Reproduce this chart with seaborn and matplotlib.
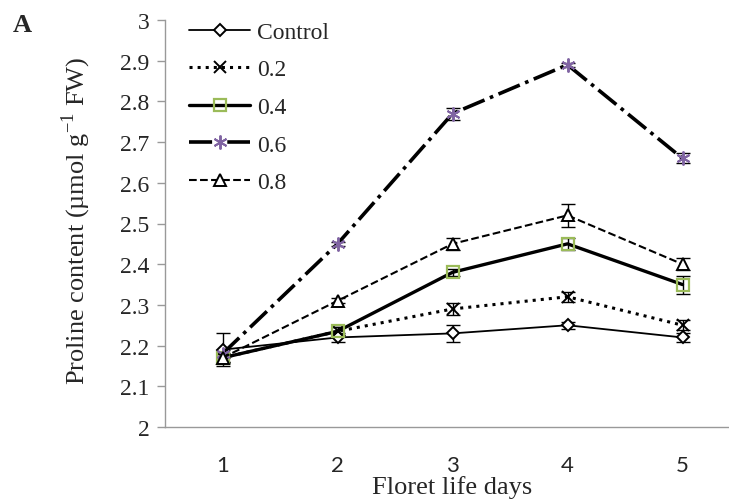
import numpy as np
import pandas as pd
import matplotlib
matplotlib.use("Agg")
import matplotlib.pyplot as plt
import seaborn as sns

days = [1, 2, 3, 4, 5]
series_names = ["Control", "0.2", "0.4", "0.6", "0.8"]
control = [2.19, 2.22, 2.23, 2.25, 2.22]
c02 = [2.17, 2.235, 2.29, 2.32, 2.25]
c04 = [2.17, 2.235, 2.38, 2.45, 2.35]
c06 = [2.18, 2.45, 2.77, 2.89, 2.66]
c08 = [2.17, 2.31, 2.45, 2.52, 2.40]
err_control = [0.04, 0.012, 0.02, 0.008, 0.012]
err_02 = [0.01, 0.01, 0.015, 0.012, 0.012]
err_04 = [0.01, 0.01, 0.008, 0.015, 0.022]
err_06 = [0.01, 0.005, 0.015, 0.005, 0.012]
err_08 = [0.012, 0.006, 0.015, 0.028, 0.015]
yticks = [2.0, 2.1, 2.2, 2.3, 2.4, 2.5, 2.6, 2.7, 2.8, 2.9, 3.0]
ytick_labels = ["2", "2.1", "2.2", "2.3", "2.4", "2.5", "2.6", "2.7", "2.8", "2.9", "3"]

values = [control, c02, c04, c06, c08]
errors = [err_control, err_02, err_04, err_06, err_08]

sns.set_style("white")
plt.rcParams['font.family'] = ['Liberation Serif', 'DejaVu Serif']
plt.rcParams['mathtext.fontset'] = 'custom'
plt.rcParams['mathtext.rm'] = 'Liberation Serif'

fig = plt.figure(figsize=(7.29, 5.02), dpi=100)
ax = fig.add_axes([165/729, 1-428/502, (740-165)/729, (428-21)/502])

green = "#9BBB59"
purple = "#8064A2"
styles = [
    dict(ls="-", lw=1.3, marker="D", ms=6.5, mfc="white", mec="black", mew=1.4, dashes=None),
    dict(ls=":", lw=2.2, marker="x", ms=8, mfc="black", mec="black", mew=1.4, dashes=(1, 1.4)),
    dict(ls="-", lw=2.4, marker="s", ms=8.5, mfc="none", mec=green, mew=1.6, dashes=None),
    dict(ls="-.", lw=2.6, marker=(6, 2, 0), ms=10, mfc=purple, mec=purple, mew=1.4, dashes=(9, 4, 1, 4)),
    dict(ls="--", lw=1.5, marker="^", ms=8, mfc="white", mec="black", mew=1.4, dashes=(11, 5)),
]

for name, vals, errs, st in zip(series_names, values, errors, styles):
    df = pd.DataFrame({"day": days, "val": vals})
    ax.errorbar(days, vals, yerr=errs, fmt="none", ecolor="black", elinewidth=1.0,
                capsize=5, capthick=1.0, zorder=2)
    kw = dict(linestyle=st["ls"], linewidth=st["lw"], color="black",
              marker=st["marker"], markersize=st["ms"], markerfacecolor=st["mfc"],
              markeredgecolor=st["mec"], markeredgewidth=st["mew"])
    if st["dashes"] is not None:
        kw["dashes"] = st["dashes"]
    sns.lineplot(data=df, x="day", y="val", ax=ax, label=name, zorder=3, **kw)

ax.set_xlim(0.5, 5.5)
ax.set_ylim(2.0, 3.0)
ax.set_xticks(days)
ax.set_xticklabels([str(d) for d in days], family=["Lato", "DejaVu Sans"])
ax.set_yticks(yticks)
ax.set_yticklabels(ytick_labels)
ax.set_xticks([1.5, 2.5, 3.5, 4.5], minor=True)
ax.tick_params(axis="x", which="major", length=0, labelsize=16, pad=20)
ax.tick_params(axis="x", which="minor", length=6, color="#999999", width=1, direction="out")
ax.tick_params(axis="y", which="major", length=6, color="#999999", width=1, direction="out",
               labelsize=17, pad=5, left=True)
for s in ["top", "right"]:
    ax.spines[s].set_visible(False)
for s in ["left", "bottom"]:
    ax.spines[s].set_color("#999999")
    ax.spines[s].set_linewidth(1.0)

ax.set_xlabel("Floret life days", fontsize=19, labelpad=0)
ax.set_ylabel("Proline content (µmol g$^{-1}$ FW)", fontsize=19, labelpad=14)
ax.yaxis.set_label_coords(-0.125, 0.51)

leg = ax.legend(loc="upper left", bbox_to_anchor=(0.025, 1.02), frameon=False,
                fontsize=17, handlelength=2.6, handletextpad=0.3, labelspacing=0.68,
                borderaxespad=0)
fig.text(13/729, 1-25/502, "A", fontsize=19, fontweight="bold", va="center", ha="left")

fig.savefig("out.png", dpi=100)
